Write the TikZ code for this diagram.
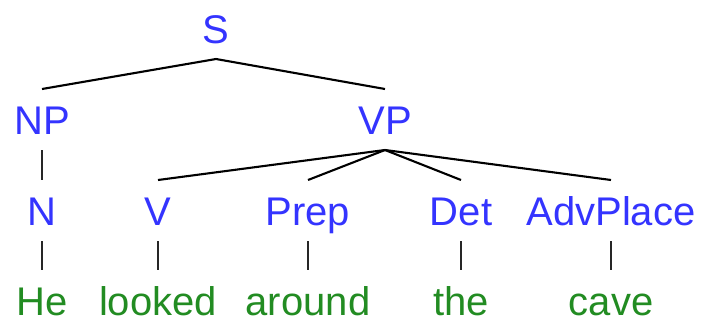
\documentclass[tikz,border=0pt]{standalone}
\usepackage{fontspec}
\setmainfont{Liberation Sans}
\definecolor{catblue}{RGB}{52,52,255}
\definecolor{wordgreen}{RGB}{34,140,34}
\begin{document}
\begin{tikzpicture}[x=1pt,y=-1pt,
  lbl/.style={anchor=base,inner xsep=0pt,inner ysep=16pt,outer sep=0pt,
    text height=29pt,text depth=0pt,font=\fontsize{40pt}{48pt}\selectfont},
  cat/.style={lbl,text=catblue},
  word/.style={lbl,inner ysep=3pt,text=wordgreen},
  edge/.style={draw=black,line width=2.1pt},
  vedge/.style={draw=black!85,line width=1.8pt}]
\useasboundingbox (0,0) rectangle (701,322);
\node[cat] (S) at (216,43) {S};
\node[cat] (NP) at (42,134) {NP};
\node[cat] (VP) at (385,134) {VP};
\node[cat] (N) at (42,225) {N};
\node[cat] (V) at (158,225) {V};
\node[cat] (Prep) at (308,225) {Prep};
\node[cat] (Det) at (461,225) {Det};
\node[cat] (Adv) at (611,225) {AdvPlace};
\node[word] (He) at (42,315) {He};
\node[word] (looked) at (158,315) {looked};
\node[word] (around) at (308,315) {around};
\node[word] (the) at (461,315) {the};
\node[word] (cave) at (611,315) {cave};
\draw[edge] (S.south) -- (NP.north);
\draw[edge] (S.south) -- (VP.north);
\draw[vedge] (NP.south) -- (N.north);
\draw[edge] (VP.south) -- (V.north);
\draw[edge] (VP.south) -- (Prep.north);
\draw[edge] (VP.south) -- (Det.north);
\draw[edge] (VP.south) -- (Adv.north);
\draw[vedge] (N.south) -- ([yshift=13pt]He.north);
\draw[vedge] (V.south) -- ([yshift=13pt]looked.north);
\draw[vedge] (Prep.south) -- ([yshift=13pt]around.north);
\draw[vedge] (Det.south) -- ([yshift=13pt]the.north);
\draw[vedge] (Adv.south) -- ([yshift=13pt]cave.north);
\end{tikzpicture}
\end{document}
